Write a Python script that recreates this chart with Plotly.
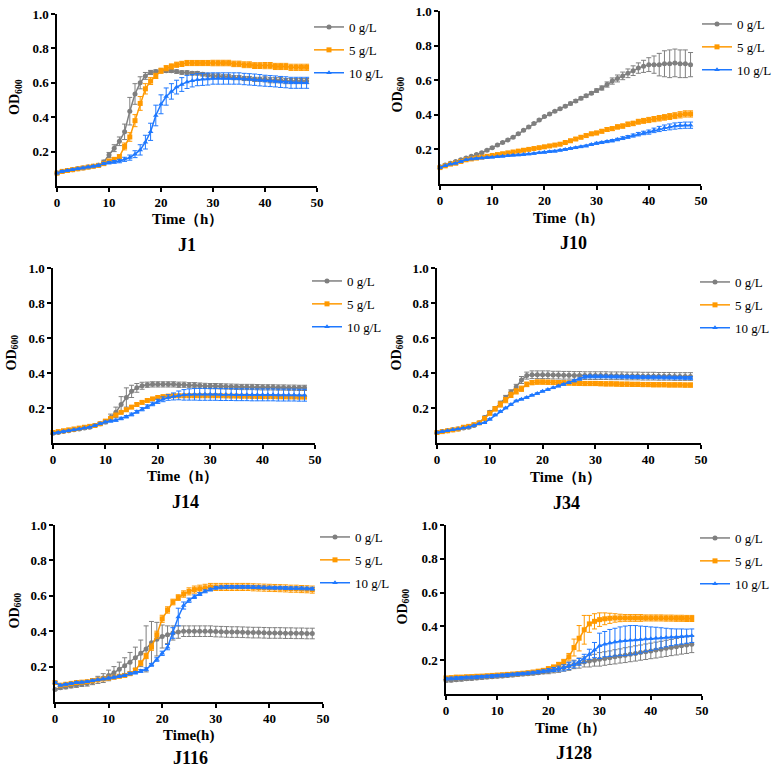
import plotly.graph_objects as go

W, H = 776, 771

HOURS = [0, 1, 2, 3, 4, 5, 6, 7, 8, 9,
         10, 11, 12, 13, 14, 15, 16, 17, 18, 19,
         20, 21, 22, 23, 24, 25, 26, 27, 28, 29,
         30, 31, 32, 33, 34, 35, 36, 37, 38, 39,
         40, 41, 42, 43, 44, 45, 46, 47, 48]

SERIES_NAMES = ["0 g/L", "5 g/L", "10 g/L"]
PANEL_NAMES = ["J1", "J10", "J14", "J34", "J116", "J128"]
X_TITLES = ["Time（h）", "Time（h）", "Time（h）", "Time（h）", "Time(h)", "Time（h）"]
X_TICKS = [0, 10, 20, 30, 40, 50]
Y_TICKS = [0.2, 0.4, 0.6, 0.8, 1.0]
Y_TICK_LABELS = ["0.2", "0.4", "0.6", "0.8", "1.0"]

# ---------------- J1 ----------------
J1_0 = [0.075, 0.085, 0.09, 0.095, 0.10, 0.105, 0.11, 0.115, 0.12, 0.14,
        0.18, 0.22, 0.26, 0.315, 0.435, 0.535, 0.60, 0.64, 0.66, 0.665,
        0.67, 0.67, 0.67, 0.665, 0.66, 0.66, 0.655, 0.655, 0.65, 0.645,
        0.64, 0.64, 0.635, 0.635, 0.63, 0.63, 0.625, 0.625, 0.62, 0.62,
        0.62, 0.615, 0.615, 0.615, 0.61, 0.61, 0.61, 0.61, 0.61]
J1_0_err = [0.005, 0.005, 0.005, 0.005, 0.005, 0.005, 0.005, 0.005, 0.008, 0.01,
            0.015, 0.02, 0.025, 0.045, 0.08, 0.06, 0.035, 0.02, 0.012, 0.01,
            0.01, 0.01, 0.01, 0.01, 0.01, 0.01, 0.01, 0.01, 0.01, 0.01,
            0.012, 0.012, 0.012, 0.012, 0.012, 0.012, 0.012, 0.012, 0.012, 0.012,
            0.015, 0.015, 0.015, 0.015, 0.015, 0.015, 0.015, 0.015, 0.015]
J1_5 = [0.075, 0.085, 0.09, 0.095, 0.10, 0.105, 0.11, 0.115, 0.12, 0.13,
        0.145, 0.155, 0.17, 0.23, 0.285, 0.38, 0.48, 0.565, 0.61, 0.64,
        0.67, 0.685, 0.695, 0.705, 0.71, 0.715, 0.715, 0.715, 0.715, 0.715,
        0.715, 0.715, 0.715, 0.715, 0.71, 0.71, 0.705, 0.705, 0.70, 0.70,
        0.70, 0.70, 0.695, 0.695, 0.695, 0.69, 0.69, 0.69, 0.69]
J1_5_err = [0.005, 0.005, 0.005, 0.005, 0.005, 0.005, 0.005, 0.005, 0.006, 0.008,
            0.01, 0.01, 0.012, 0.02, 0.025, 0.035, 0.04, 0.03, 0.02, 0.015,
            0.015, 0.015, 0.015, 0.015, 0.015, 0.015, 0.015, 0.015, 0.015, 0.015,
            0.016, 0.016, 0.016, 0.016, 0.016, 0.016, 0.017, 0.017, 0.017, 0.017,
            0.018, 0.018, 0.018, 0.018, 0.018, 0.018, 0.018, 0.018, 0.018]
J1_10 = [0.075, 0.085, 0.09, 0.095, 0.10, 0.105, 0.11, 0.115, 0.12, 0.13,
         0.135, 0.14, 0.145, 0.155, 0.165, 0.185, 0.21, 0.255, 0.315, 0.41,
         0.475, 0.52, 0.55, 0.575, 0.59, 0.605, 0.612, 0.618, 0.62, 0.622,
         0.625, 0.625, 0.625, 0.625, 0.625, 0.625, 0.622, 0.62, 0.618, 0.615,
         0.612, 0.61, 0.608, 0.605, 0.603, 0.60, 0.60, 0.60, 0.60]
J1_10_err = [0.005, 0.005, 0.005, 0.005, 0.005, 0.005, 0.005, 0.005, 0.006, 0.006,
             0.007, 0.008, 0.01, 0.012, 0.015, 0.02, 0.03, 0.04, 0.05, 0.06,
             0.055, 0.05, 0.045, 0.04, 0.04, 0.038, 0.036, 0.035, 0.035, 0.035,
             0.033, 0.033, 0.033, 0.033, 0.033, 0.033, 0.033, 0.033, 0.033, 0.033,
             0.032, 0.032, 0.032, 0.032, 0.032, 0.032, 0.032, 0.032, 0.032]

# ---------------- J10 ----------------
J10_0 = [0.10, 0.11, 0.12, 0.13, 0.14, 0.15, 0.16, 0.17, 0.18, 0.195,
         0.21, 0.225, 0.24, 0.255, 0.27, 0.29, 0.31, 0.33, 0.35, 0.37,
         0.39, 0.405, 0.42, 0.435, 0.45, 0.465, 0.48, 0.495, 0.51, 0.525,
         0.54, 0.555, 0.575, 0.595, 0.61, 0.625, 0.64, 0.655, 0.67, 0.68,
         0.69, 0.69, 0.69, 0.695, 0.695, 0.70, 0.695, 0.695, 0.69]
J10_0_err = [0.005, 0.005, 0.005, 0.005, 0.005, 0.005, 0.005, 0.005, 0.005, 0.005,
             0.005, 0.005, 0.005, 0.005, 0.005, 0.005, 0.005, 0.005, 0.005, 0.005,
             0.005, 0.005, 0.005, 0.005, 0.006, 0.008, 0.008, 0.008, 0.008, 0.008,
             0.01, 0.012, 0.015, 0.018, 0.02, 0.022, 0.025, 0.028, 0.03, 0.035,
             0.04, 0.05, 0.065, 0.075, 0.08, 0.08, 0.08, 0.08, 0.07]
J10_5 = [0.095, 0.105, 0.115, 0.12, 0.13, 0.14, 0.145, 0.15, 0.155, 0.16,
         0.165, 0.17, 0.175, 0.18, 0.185, 0.19, 0.195, 0.20, 0.205, 0.21,
         0.215, 0.22, 0.225, 0.23, 0.24, 0.25, 0.26, 0.27, 0.28, 0.29,
         0.295, 0.305, 0.315, 0.32, 0.33, 0.335, 0.345, 0.35, 0.36, 0.365,
         0.37, 0.375, 0.38, 0.385, 0.39, 0.395, 0.40, 0.405, 0.405]
J10_5_err = [0.005, 0.005, 0.005, 0.005, 0.005, 0.005, 0.005, 0.005, 0.005, 0.005,
             0.005, 0.005, 0.005, 0.005, 0.005, 0.005, 0.005, 0.005, 0.005, 0.005,
             0.006, 0.006, 0.006, 0.007, 0.007, 0.008, 0.008, 0.008, 0.009, 0.009,
             0.01, 0.01, 0.011, 0.011, 0.012, 0.012, 0.013, 0.013, 0.014, 0.014,
             0.015, 0.015, 0.016, 0.016, 0.017, 0.017, 0.018, 0.018, 0.018]
J10_10 = [0.095, 0.105, 0.115, 0.12, 0.13, 0.14, 0.145, 0.148, 0.15, 0.153,
          0.155, 0.158, 0.16, 0.163, 0.166, 0.168, 0.17, 0.173, 0.176, 0.18,
          0.183, 0.187, 0.19, 0.195, 0.20, 0.205, 0.21, 0.215, 0.22, 0.228,
          0.235, 0.24, 0.245, 0.25, 0.257, 0.265, 0.272, 0.28, 0.288, 0.295,
          0.30, 0.31, 0.318, 0.325, 0.33, 0.335, 0.338, 0.34, 0.34]
J10_10_err = [0.004, 0.004, 0.004, 0.004, 0.004, 0.004, 0.004, 0.004, 0.004, 0.004,
              0.004, 0.004, 0.004, 0.004, 0.004, 0.004, 0.004, 0.004, 0.004, 0.004,
              0.005, 0.005, 0.005, 0.005, 0.005, 0.005, 0.005, 0.005, 0.005, 0.005,
              0.006, 0.006, 0.006, 0.007, 0.007, 0.008, 0.008, 0.009, 0.01, 0.01,
              0.012, 0.013, 0.015, 0.016, 0.017, 0.018, 0.018, 0.018, 0.018]

# ---------------- J14 ----------------
J14_0 = [0.055, 0.06, 0.065, 0.07, 0.075, 0.08, 0.085, 0.09, 0.10, 0.11,
         0.12, 0.145, 0.175, 0.22, 0.26, 0.295, 0.315, 0.327, 0.333, 0.335,
         0.335, 0.335, 0.335, 0.335, 0.333, 0.333, 0.33, 0.33, 0.328, 0.326,
         0.325, 0.325, 0.324, 0.323, 0.322, 0.321, 0.32, 0.32, 0.32, 0.319,
         0.318, 0.318, 0.318, 0.317, 0.317, 0.316, 0.316, 0.315, 0.315]
J14_0_err = [0.004, 0.004, 0.004, 0.004, 0.004, 0.004, 0.005, 0.005, 0.006, 0.008,
             0.01, 0.02, 0.03, 0.045, 0.055, 0.035, 0.025, 0.02, 0.015, 0.015,
             0.015, 0.015, 0.015, 0.015, 0.015, 0.015, 0.015, 0.015, 0.015, 0.015,
             0.015, 0.015, 0.015, 0.015, 0.015, 0.015, 0.015, 0.015, 0.015, 0.015,
             0.015, 0.015, 0.015, 0.015, 0.015, 0.015, 0.015, 0.015, 0.015]
J14_5 = [0.06, 0.065, 0.07, 0.075, 0.08, 0.085, 0.09, 0.095, 0.10, 0.11,
         0.125, 0.14, 0.16, 0.175, 0.19, 0.205, 0.22, 0.232, 0.243, 0.252,
         0.26, 0.265, 0.268, 0.27, 0.27, 0.27, 0.27, 0.27, 0.27, 0.27,
         0.27, 0.27, 0.27, 0.269, 0.268, 0.268, 0.267, 0.267, 0.266, 0.266,
         0.265, 0.265, 0.265, 0.264, 0.264, 0.263, 0.263, 0.262, 0.262]
J14_5_err = [0.004, 0.004, 0.004, 0.004, 0.004, 0.004, 0.004, 0.004, 0.004, 0.005,
             0.005, 0.006, 0.006, 0.007, 0.007, 0.008, 0.008, 0.008, 0.008, 0.008,
             0.008, 0.008, 0.008, 0.008, 0.008, 0.008, 0.008, 0.008, 0.008, 0.008,
             0.008, 0.008, 0.008, 0.008, 0.008, 0.008, 0.008, 0.008, 0.008, 0.008,
             0.008, 0.008, 0.008, 0.008, 0.008, 0.008, 0.008, 0.008, 0.008]
J14_10 = [0.055, 0.06, 0.065, 0.07, 0.075, 0.08, 0.085, 0.09, 0.10, 0.11,
          0.12, 0.125, 0.13, 0.14, 0.15, 0.163, 0.178, 0.193, 0.208, 0.223,
          0.238, 0.25, 0.26, 0.266, 0.272, 0.275, 0.277, 0.278, 0.278, 0.278,
          0.278, 0.278, 0.277, 0.277, 0.277, 0.276, 0.276, 0.276, 0.275, 0.275,
          0.275, 0.275, 0.275, 0.274, 0.274, 0.274, 0.274, 0.273, 0.273]
J14_10_err = [0.004, 0.004, 0.004, 0.004, 0.004, 0.004, 0.004, 0.004, 0.004, 0.005,
              0.005, 0.006, 0.006, 0.007, 0.007, 0.008, 0.008, 0.009, 0.01, 0.01,
              0.012, 0.014, 0.016, 0.02, 0.025, 0.03, 0.032, 0.033, 0.034, 0.034,
              0.034, 0.034, 0.034, 0.034, 0.034, 0.034, 0.034, 0.034, 0.034, 0.034,
              0.034, 0.034, 0.034, 0.034, 0.034, 0.034, 0.034, 0.034, 0.034]

# ---------------- J34 ----------------
J34_0 = [0.06, 0.065, 0.07, 0.075, 0.08, 0.085, 0.09, 0.10, 0.115, 0.145,
         0.175, 0.197, 0.227, 0.26, 0.29, 0.32, 0.36, 0.385, 0.39, 0.39,
         0.39, 0.39, 0.388, 0.388, 0.387, 0.387, 0.386, 0.386, 0.385, 0.385,
         0.385, 0.385, 0.385, 0.384, 0.384, 0.384, 0.383, 0.383, 0.383, 0.382,
         0.382, 0.382, 0.381, 0.381, 0.381, 0.38, 0.38, 0.38, 0.38]
J34_0_err = [0.004, 0.004, 0.004, 0.004, 0.004, 0.004, 0.005, 0.005, 0.006, 0.008,
             0.01, 0.01, 0.012, 0.012, 0.014, 0.015, 0.02, 0.02, 0.022, 0.022,
             0.022, 0.022, 0.022, 0.022, 0.022, 0.022, 0.022, 0.022, 0.022, 0.022,
             0.022, 0.022, 0.022, 0.022, 0.022, 0.022, 0.022, 0.022, 0.022, 0.022,
             0.022, 0.022, 0.022, 0.022, 0.022, 0.022, 0.022, 0.022, 0.022]
J34_5 = [0.06, 0.065, 0.07, 0.075, 0.08, 0.09, 0.095, 0.105, 0.115, 0.14,
         0.17, 0.195, 0.22, 0.245, 0.275, 0.295, 0.31, 0.335, 0.345, 0.348,
         0.348, 0.347, 0.346, 0.345, 0.344, 0.343, 0.342, 0.341, 0.34, 0.34,
         0.34, 0.339, 0.338, 0.338, 0.337, 0.336, 0.336, 0.335, 0.335, 0.334,
         0.334, 0.333, 0.333, 0.333, 0.332, 0.332, 0.332, 0.331, 0.331]
J34_5_err = [0.004, 0.004, 0.004, 0.004, 0.004, 0.005, 0.005, 0.005, 0.006, 0.008,
             0.01, 0.012, 0.015, 0.015, 0.015, 0.015, 0.015, 0.013, 0.012, 0.012,
             0.012, 0.012, 0.012, 0.012, 0.012, 0.012, 0.012, 0.012, 0.012, 0.012,
             0.012, 0.012, 0.012, 0.012, 0.012, 0.012, 0.012, 0.012, 0.012, 0.012,
             0.012, 0.012, 0.012, 0.012, 0.012, 0.012, 0.012, 0.012, 0.012]
J34_10 = [0.06, 0.065, 0.07, 0.075, 0.08, 0.085, 0.09, 0.10, 0.11, 0.115,
          0.135, 0.16, 0.18, 0.20, 0.22, 0.24, 0.25, 0.26, 0.273, 0.283,
          0.295, 0.305, 0.315, 0.325, 0.335, 0.345, 0.355, 0.365, 0.378, 0.38,
          0.38, 0.38, 0.38, 0.379, 0.379, 0.378, 0.378, 0.377, 0.377, 0.376,
          0.376, 0.375, 0.375, 0.374, 0.374, 0.373, 0.373, 0.372, 0.372]
J34_10_err = [0.003, 0.003, 0.003, 0.003, 0.003, 0.003, 0.003, 0.003, 0.003, 0.003,
              0.004, 0.004, 0.004, 0.004, 0.004, 0.004, 0.004, 0.004, 0.004, 0.004,
              0.004, 0.004, 0.004, 0.005, 0.005, 0.005, 0.006, 0.006, 0.008, 0.008,
              0.008, 0.008, 0.008, 0.008, 0.008, 0.008, 0.008, 0.008, 0.008, 0.008,
              0.008, 0.008, 0.008, 0.008, 0.008, 0.008, 0.008, 0.008, 0.008]

# ---------------- J116 ----------------
J116_0 = [0.07, 0.08, 0.085, 0.09, 0.095, 0.10, 0.105, 0.115, 0.125, 0.135,
          0.15, 0.165, 0.185, 0.205, 0.225, 0.25, 0.275, 0.30, 0.335, 0.355,
          0.37, 0.38, 0.39, 0.395, 0.40, 0.40, 0.40, 0.40, 0.40, 0.40,
          0.398, 0.397, 0.396, 0.395, 0.395, 0.394, 0.393, 0.392, 0.392, 0.391,
          0.39, 0.39, 0.39, 0.389, 0.389, 0.388, 0.388, 0.387, 0.387]
J116_0_err = [0.005, 0.008, 0.01, 0.01, 0.012, 0.012, 0.015, 0.017, 0.02, 0.025,
              0.03, 0.035, 0.04, 0.045, 0.055, 0.06, 0.075, 0.13, 0.12, 0.095,
              0.065, 0.05, 0.04, 0.035, 0.03, 0.03, 0.03, 0.03, 0.03, 0.03,
              0.03, 0.03, 0.03, 0.03, 0.03, 0.03, 0.03, 0.03, 0.03, 0.03,
              0.03, 0.03, 0.03, 0.03, 0.03, 0.03, 0.03, 0.03, 0.03]
J116_5 = [0.11, 0.095, 0.10, 0.105, 0.11, 0.112, 0.115, 0.12, 0.125, 0.13,
          0.135, 0.14, 0.145, 0.15, 0.16, 0.18, 0.22, 0.26, 0.31, 0.38,
          0.47, 0.52, 0.565, 0.59, 0.61, 0.625, 0.635, 0.64, 0.645, 0.65,
          0.65, 0.65, 0.65, 0.65, 0.65, 0.65, 0.65, 0.648, 0.647, 0.646,
          0.645, 0.644, 0.643, 0.642, 0.64, 0.64, 0.638, 0.637, 0.635]
J116_5_err = [0.005, 0.005, 0.005, 0.005, 0.005, 0.005, 0.005, 0.005, 0.005, 0.006,
              0.006, 0.006, 0.007, 0.007, 0.008, 0.01, 0.012, 0.015, 0.018, 0.02,
              0.02, 0.018, 0.016, 0.016, 0.018, 0.02, 0.02, 0.02, 0.02, 0.02,
              0.02, 0.02, 0.02, 0.02, 0.02, 0.02, 0.02, 0.02, 0.02, 0.02,
              0.02, 0.02, 0.02, 0.02, 0.02, 0.02, 0.02, 0.02, 0.02]
J116_10 = [0.11, 0.095, 0.10, 0.105, 0.11, 0.112, 0.115, 0.12, 0.125, 0.13,
           0.135, 0.14, 0.145, 0.15, 0.16, 0.165, 0.175, 0.185, 0.21, 0.24,
           0.275, 0.31, 0.39, 0.48, 0.545, 0.575, 0.595, 0.61, 0.625, 0.635,
           0.645, 0.648, 0.65, 0.65, 0.65, 0.65, 0.65, 0.649, 0.648, 0.647,
           0.646, 0.645, 0.645, 0.644, 0.643, 0.643, 0.642, 0.641, 0.64]
J116_10_err = [0.005, 0.005, 0.005, 0.005, 0.005, 0.005, 0.005, 0.005, 0.005, 0.005,
               0.006, 0.006, 0.006, 0.006, 0.007, 0.007, 0.008, 0.008, 0.008, 0.01,
               0.012, 0.015, 0.03, 0.05, 0.02, 0.012, 0.01, 0.008, 0.008, 0.008,
               0.008, 0.008, 0.008, 0.008, 0.008, 0.008, 0.008, 0.008, 0.008, 0.008,
               0.008, 0.008, 0.008, 0.008, 0.008, 0.008, 0.008, 0.008, 0.008]

# ---------------- J128 ----------------
J128_0 = [0.08, 0.082, 0.085, 0.087, 0.09, 0.092, 0.095, 0.097, 0.10, 0.102,
          0.105, 0.107, 0.11, 0.112, 0.115, 0.118, 0.12, 0.123, 0.126, 0.13,
          0.135, 0.14, 0.148, 0.155, 0.165, 0.175, 0.183, 0.19, 0.195, 0.20,
          0.205, 0.21, 0.215, 0.22, 0.225, 0.23, 0.235, 0.24, 0.245, 0.25,
          0.255, 0.26, 0.265, 0.27, 0.275, 0.28, 0.285, 0.29, 0.295]
J128_0_err = [0.01, 0.01, 0.01, 0.01, 0.01, 0.01, 0.01, 0.01, 0.01, 0.01,
              0.01, 0.01, 0.01, 0.01, 0.01, 0.01, 0.01, 0.01, 0.01, 0.01,
              0.015, 0.015, 0.02, 0.02, 0.025, 0.025, 0.03, 0.03, 0.035, 0.035,
              0.04, 0.04, 0.04, 0.042, 0.042, 0.044, 0.044, 0.045, 0.045, 0.046,
              0.046, 0.047, 0.047, 0.048, 0.048, 0.049, 0.049, 0.05, 0.05]
J128_5 = [0.095, 0.097, 0.10, 0.10, 0.102, 0.103, 0.105, 0.106, 0.108, 0.11,
          0.112, 0.114, 0.116, 0.118, 0.12, 0.123, 0.126, 0.13, 0.135, 0.14,
          0.15, 0.16, 0.175, 0.19, 0.22, 0.275, 0.33, 0.38, 0.415, 0.43,
          0.44, 0.445, 0.448, 0.45, 0.45, 0.45, 0.45, 0.45, 0.45, 0.45,
          0.45, 0.45, 0.45, 0.449, 0.449, 0.448, 0.448, 0.447, 0.447]
J128_5_err = [0.008, 0.008, 0.008, 0.008, 0.008, 0.008, 0.008, 0.008, 0.008, 0.008,
              0.008, 0.008, 0.008, 0.008, 0.008, 0.008, 0.008, 0.008, 0.008, 0.008,
              0.01, 0.01, 0.012, 0.015, 0.02, 0.05, 0.075, 0.085, 0.05, 0.045,
              0.04, 0.035, 0.03, 0.025, 0.022, 0.02, 0.02, 0.02, 0.02, 0.018,
              0.018, 0.018, 0.018, 0.018, 0.018, 0.018, 0.018, 0.018, 0.018]
J128_10 = [0.09, 0.092, 0.094, 0.095, 0.097, 0.098, 0.10, 0.102, 0.104, 0.106,
           0.108, 0.11, 0.112, 0.115, 0.118, 0.12, 0.123, 0.126, 0.13, 0.135,
           0.14, 0.145, 0.15, 0.155, 0.165, 0.175, 0.19, 0.21, 0.235, 0.26,
           0.285, 0.295, 0.302, 0.307, 0.312, 0.315, 0.318, 0.32, 0.322, 0.325,
           0.327, 0.33, 0.332, 0.334, 0.336, 0.338, 0.34, 0.342, 0.345]
J128_10_err = [0.008, 0.008, 0.008, 0.008, 0.008, 0.008, 0.008, 0.008, 0.008, 0.008,
               0.008, 0.008, 0.008, 0.008, 0.008, 0.008, 0.008, 0.008, 0.008, 0.008,
               0.01, 0.012, 0.015, 0.018, 0.02, 0.02, 0.02, 0.025, 0.03, 0.045,
               0.075, 0.075, 0.08, 0.082, 0.085, 0.087, 0.087, 0.085, 0.08, 0.075,
               0.07, 0.065, 0.06, 0.055, 0.05, 0.047, 0.045, 0.042, 0.04]

PANELS = [
    (J1_0, J1_0_err, J1_5, J1_5_err, J1_10, J1_10_err),
    (J10_0, J10_0_err, J10_5, J10_5_err, J10_10, J10_10_err),
    (J14_0, J14_0_err, J14_5, J14_5_err, J14_10, J14_10_err),
    (J34_0, J34_0_err, J34_5, J34_5_err, J34_10, J34_10_err),
    (J116_0, J116_0_err, J116_5, J116_5_err, J116_10, J116_10_err),
    (J128_0, J128_0_err, J128_5, J128_5_err, J128_10, J128_10_err),
]

# ---------------- styling / layout (pixels) ----------------
COLORS = ["#7F7F7F", "#FF9900", "#1E78FF"]
SYMBOLS = ["circle", "square", "triangle-up"]
FONT = "Liberation Serif"

# plot-area boxes: x_left, x_right, y_top(1.0), y_bottom(0)
BOXES = [(57, 317, 14, 186), (440, 701, 11, 184),
         (53, 315, 268, 443), (437, 701, 268, 443),
         (55, 323, 525, 702), (446, 702, 525, 694)]
# legend: text start x, first entry center y
LEG = [(347, 26), (735, 23), (345, 280), (733, 281), (353, 536), (733, 537)]
# y-title x, x-title (x, y), panel-title (x, y)
YT_X = [15, 398, 12, 397, 15, 403]
XT = [(187, 219), (568, 218), (182, 476), (565, 477), (188, 735), (570, 728)]
PT = [(187, 245), (573, 243), (185, 502), (566, 503), (190, 758), (574, 753)]


def px(x):
    return x / W


def py(y):
    return 1 - y / H


fig = go.Figure()
layout = dict(width=W, height=H,
              margin=dict(l=0, r=0, t=0, b=0, autoexpand=False),
              paper_bgcolor="white", plot_bgcolor="white",
              showlegend=True, annotations=[])

for p in range(6):
    s = "" if p == 0 else str(p + 1)
    leg = "legend" if p == 0 else f"legend{p + 1}"
    data = PANELS[p]
    for k in range(3):
        fig.add_trace(go.Scatter(
            x=HOURS, y=data[2 * k], name=SERIES_NAMES[k],
            mode="lines+markers", xaxis="x" + s, yaxis="y" + s,
            legend=leg, legendgroup=f"{p}-{k}",
            line=dict(color=COLORS[k], width=1.5),
            marker=dict(symbol=SYMBOLS[k], size=5, color=COLORS[k]),
            error_y=dict(type="data", array=data[2 * k + 1], color=COLORS[k],
                         thickness=1, width=2.5),
            cliponaxis=False,
        ))
    x0, x1, yt, yb = BOXES[p]
    layout["xaxis" + s] = dict(
        domain=[px(x0), px(x1)], anchor="y" + s, range=[0, 50],
        tickvals=X_TICKS, showline=True, linecolor="black", linewidth=1.5,
        ticks="outside", ticklen=4, tickwidth=1.5, tickcolor="black",
        showgrid=False, zeroline=False, automargin=False,
        tickfont=dict(family=FONT, size=13, color="black", weight="bold"))
    layout["yaxis" + s] = dict(
        domain=[py(yb), py(yt)], anchor="x" + s, range=[0, 1],
        tickvals=Y_TICKS, ticktext=Y_TICK_LABELS, showline=True,
        linecolor="black", linewidth=1.5, ticks="outside", ticklen=4,
        tickwidth=1.5, tickcolor="black", showgrid=False, zeroline=False,
        automargin=False,
        tickfont=dict(family=FONT, size=13, color="black", weight="bold"))
    lx, ly = LEG[p]
    layout[leg] = dict(
        x=px(lx - 38), y=py(ly - 14), xanchor="left", yanchor="top",
        bgcolor="rgba(0,0,0,0)", tracegroupgap=3, traceorder="grouped",
        itemwidth=30,
        font=dict(family=FONT, size=13, color="black"))
    layout["annotations"] += [
        dict(text="<b>OD<sub>600</sub></b>", x=px(YT_X[p]), y=py((yt + yb) / 2 - 3),
             xref="paper", yref="paper", textangle=-90, showarrow=False,
             xanchor="center", yanchor="middle",
             font=dict(family=FONT, size=14, color="black")),
        dict(text="<b>" + X_TITLES[p] + "</b>", x=px(XT[p][0]), y=py(XT[p][1]),
             xref="paper", yref="paper", showarrow=False,
             xanchor="center", yanchor="middle",
             font=dict(family=FONT, size=15, color="black")),
        dict(text="<b>" + PANEL_NAMES[p] + "</b>", x=px(PT[p][0]), y=py(PT[p][1]),
             xref="paper", yref="paper", showarrow=False,
             xanchor="center", yanchor="middle",
             font=dict(family=FONT, size=18, color="black")),
    ]

fig.update_layout(**layout)
fig.write_html("out.html",
               config={"displayModeBar": False},
               post_script="document.body.style.margin='0px';"
                           "document.body.style.overflow='hidden';")
